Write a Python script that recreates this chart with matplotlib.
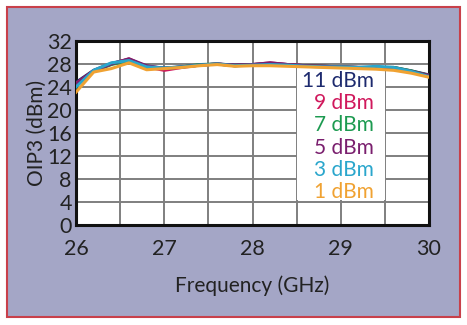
import matplotlib
matplotlib.use("Agg")
import matplotlib.pyplot as plt
from matplotlib.patches import Rectangle

freq = [26.0, 26.2, 26.4, 26.6, 26.8, 27.0, 27.2, 27.4, 27.6, 27.8, 28.0,
        28.2, 28.4, 28.6, 28.8, 29.0, 29.2, 29.4, 29.6, 29.8, 30.0]
oip3_11 = [24.8, 26.9, 28.1, 28.8, 27.6, 27.3, 27.5, 27.8, 28.0, 27.8, 27.9,
           28.1, 27.9, 27.7, 27.6, 27.5, 27.4, 27.4, 27.4, 26.8, 26.1]
oip3_9 = [24.6, 26.8, 28.0, 28.9, 27.5, 26.9, 27.4, 27.8, 28.0, 27.7, 27.9,
          28.2, 27.9, 27.7, 27.6, 27.5, 27.4, 27.3, 27.3, 26.7, 26.0]
oip3_7 = [24.3, 26.7, 27.9, 28.6, 27.4, 27.2, 27.5, 27.9, 28.0, 27.7, 27.9,
          28.0, 27.8, 27.7, 27.6, 27.5, 27.4, 27.4, 27.4, 26.8, 26.0]
oip3_5 = [24.5, 26.8, 28.0, 28.9, 27.7, 27.2, 27.5, 27.8, 28.0, 27.8, 27.9,
          28.2, 27.9, 27.7, 27.6, 27.5, 27.4, 27.4, 27.3, 26.7, 26.0]
oip3_3 = [24.0, 26.9, 28.2, 28.6, 27.5, 27.3, 27.5, 27.8, 28.0, 27.7, 27.8,
          27.9, 27.8, 27.6, 27.5, 27.5, 27.4, 27.6, 27.4, 26.7, 25.8]
oip3_1 = [23.1, 26.6, 27.2, 28.2, 27.0, 27.2, 27.4, 27.7, 27.9, 27.6, 27.7,
          27.7, 27.6, 27.5, 27.4, 27.3, 27.2, 27.1, 26.9, 26.4, 25.7]

labels = ["11 dBm", "9 dBm", "7 dBm", "5 dBm", "3 dBm", "1 dBm"]
series = [oip3_11, oip3_9, oip3_7, oip3_5, oip3_3, oip3_1]
colors = ["#1d2a6e", "#d0185c", "#1c9a50", "#7a1f6e", "#2aa6cc", "#f0a232"]

xticks = [26, 27, 28, 29, 30]
yticks = [0, 4, 8, 12, 16, 20, 24, 28, 32]

plt.rcParams['font.family'] = ['Lato', 'DejaVu Sans']

fig = plt.figure(figsize=(4.67, 3.25), dpi=100)
fig.patch.set_facecolor("white")
# outer lavender panel with red border
fig.patches.append(Rectangle((7 / 467, 8 / 325), 453 / 467, 310 / 325,
                             transform=fig.transFigure, facecolor="#a4a6c6",
                             edgecolor="#c8404a", linewidth=1.5, zorder=-5))

ax = fig.add_axes([76 / 467, 1 - 225 / 325, 353 / 467, 184 / 325])
ax.set_zorder(2)
ax.set_facecolor("white")
for s, c in zip(series, colors):
    ax.plot(freq, s, color=c, linewidth=2.2, solid_joinstyle="round", zorder=3)

ax.set_xlim(26, 30)
ax.set_ylim(0, 32)
ax.set_xticks(xticks)
ax.set_yticks(yticks)
ax.set_xticks([26.5, 27.5, 28.5, 29.5], minor=True)
ax.grid(True, which="both", color="#7f7f7f", linewidth=1.4, zorder=1)
ax.tick_params(which="both", length=0)
ax.tick_params(axis="x", labelsize=15.5, pad=10, colors="#222222")
ax.tick_params(axis="y", labelsize=15.5, pad=3, colors="#222222")
for sp in ax.spines.values():
    sp.set_linewidth(2.2)
    sp.set_color("#111111")
ax.set_xlabel("Frequency (GHz)", fontsize=15, color="#222222", labelpad=12)
ax.set_ylabel("OIP3 (dBm)", fontsize=15, color="#222222", labelpad=0)

ax.add_patch(Rectangle((0.626, 0.136), 0.249, 0.734, transform=ax.transAxes,
                       facecolor="white", edgecolor="none", zorder=2))
ys = [0.783, 0.663, 0.541, 0.42, 0.299, 0.179]
for lab, c, y in zip(labels, colors, ys):
    ax.text(0.843, y, lab, transform=ax.transAxes, ha="right", va="center",
            color=c, fontsize=15, zorder=4)

fig.savefig("out.png", dpi=100)
